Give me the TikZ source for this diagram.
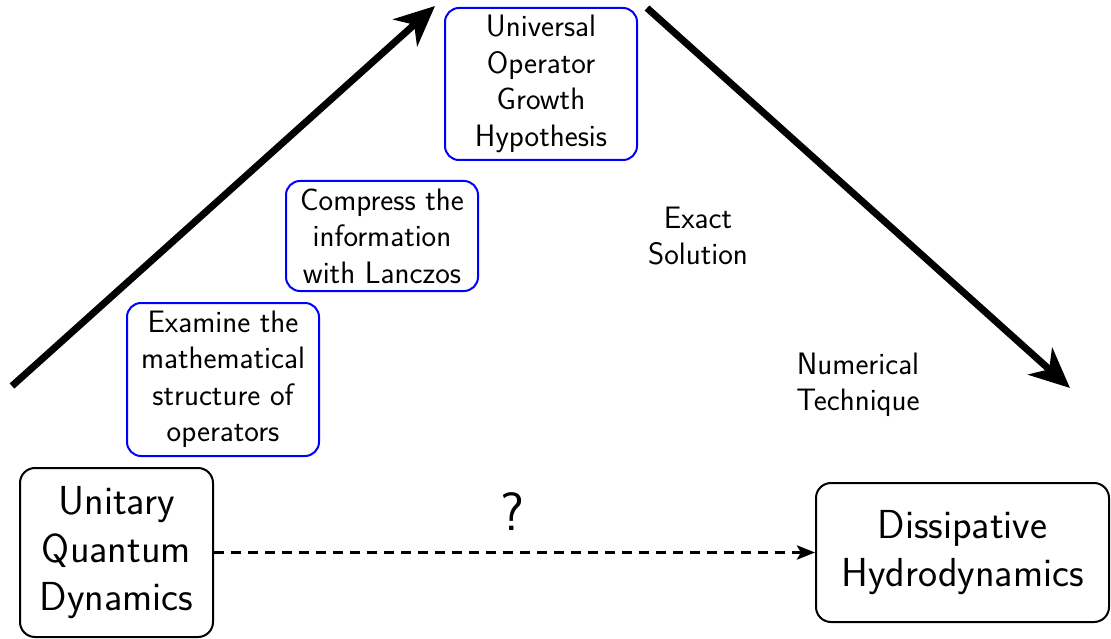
\documentclass[tikz,border=0pt]{standalone}
\usepackage{fontspec}
\usetikzlibrary{arrows.meta}
\begin{document}
\begin{tikzpicture}[x=1pt,y=-1pt,
  font=\sffamily,
  bluebox/.style={draw=blue, line width=2pt, rounded corners=14pt, align=center,
    minimum width=192pt, font=\sffamily\fontsize{31}{36.5}\selectfont, inner sep=2pt},
  bigbox/.style={draw=black, line width=2pt, rounded corners=15pt, align=center,
    font=\sffamily\fontsize{40.5}{48}\selectfont, inner sep=2pt},
  plain/.style={align=center, font=\sffamily\fontsize{31}{36.5}\selectfont},
  bigarrow/.style={line width=7pt, -{Stealth[length=40pt,width=36pt,inset=12pt]}},
  dasharrow/.style={line width=3.5pt, dash pattern=on 10pt off 7pt, -{Stealth[length=18pt,width=14pt,inset=4pt]}}
]
\useasboundingbox (0,0) rectangle (1111,639);
\node[bigbox, minimum width=193pt, minimum height=169pt] (uqd) at (116.5,552.5) {Unitary\\Quantum\\Dynamics};
\node[bigbox, minimum width=293pt, minimum height=139pt] (dh) at (962.5,552.5) {Dissipative\\Hydrodynamics};
\draw[dasharrow] (uqd.east) -- (dh.west);
\node[font=\sffamily\fontsize{54}{60}\selectfont] (q) at (512,512) {?};
\node[bluebox, minimum height=153pt] (ex) at (223,379.5) {Examine the\\mathematical\\structure of\\operators};
\node[bluebox, minimum height=110pt] (cp) at (382,236) {Compress the\\information\\with Lanczos};
\node[bluebox, minimum height=152pt] (uo) at (541,84) {Universal\\Operator\\Growth\\Hypothesis};
\node[plain] (es) at (698,236) {Exact\\Solution};
\node[plain] (nt) at (858,385) {Numerical\\Technique};
\coordinate (l1) at (12,386);
\coordinate (l2) at (435,6);
\coordinate (r1) at (647,8);
\coordinate (r2) at (1070,388);
\draw[bigarrow] (l1) -- (l2);
\draw[bigarrow] (r1) -- (r2);
\end{tikzpicture}
\end{document}
